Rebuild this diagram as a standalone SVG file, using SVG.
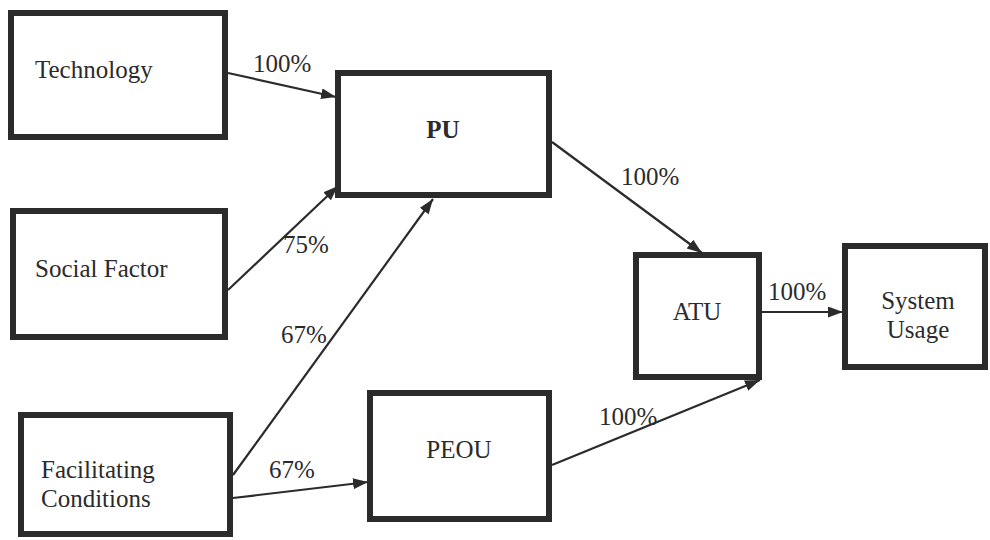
<svg xmlns="http://www.w3.org/2000/svg" width="990" height="540" viewBox="0 0 990 540">
<style>
.box{fill:#fff;stroke:#2b2b2b;stroke-width:6}
.t{font-family:'Liberation Serif','Times New Roman','DejaVu Serif',serif;font-size:25px;fill:#2b2b2b}
.c{text-anchor:middle}
.e{stroke:#2b2b2b;stroke-width:2.2;fill:none;marker-end:url(#ah)}
</style>
<defs>
<marker id="ah" markerUnits="userSpaceOnUse" markerWidth="16" markerHeight="12" refX="15" refY="5.5" orient="auto">
<path d="M0,0 L15,5.5 L0,11 z" fill="#2b2b2b"/>
</marker>
</defs>
<rect width="990" height="540" fill="#fff"/>
<g id="connectors">
<line class="e" x1="228" y1="73" x2="336" y2="97"/>
<line class="e" x1="228" y1="290" x2="338" y2="186"/>
<line class="e" x1="233" y1="475" x2="433" y2="199"/>
<line class="e" x1="233" y1="498" x2="368" y2="482"/>
<line class="e" x1="552" y1="142" x2="702" y2="253"/>
<line class="e" x1="552" y1="465" x2="760" y2="380"/>
<line class="e" x1="762" y1="312" x2="843" y2="312"/>
<text class="t" x="253" y="72">100%</text>
<text class="t" x="283" y="253">75%</text>
<text class="t" x="281" y="343">67%</text>
<text class="t" x="269" y="478">67%</text>
<text class="t" x="621" y="185">100%</text>
<text class="t" x="599" y="425">100%</text>
<text class="t" x="768" y="300">100%</text>
</g>
<g id="technology">
<rect class="box" x="11" y="13" width="214" height="124"/>
<text class="t" x="35" y="78">Technology</text>
</g>
<g id="social-factor">
<rect class="box" x="13" y="211" width="212" height="126"/>
<text class="t" x="35" y="277">Social Factor</text>
</g>
<g id="facilitating-conditions">
<rect class="box" x="21" y="415" width="209" height="119"/>
<text class="t" x="41" y="478">Facilitating</text>
<text class="t" x="41" y="507">Conditions</text>
</g>
<g id="pu">
<rect class="box" x="338" y="73" width="211" height="122"/>
<text class="t c" x="443" y="138" font-weight="bold">PU</text>
</g>
<g id="peou">
<rect class="box" x="370" y="393" width="179" height="126"/>
<text class="t c" x="459" y="458">PEOU</text>
</g>
<g id="atu">
<rect class="box" x="636" y="255" width="123" height="122"/>
<text class="t c" x="697" y="320">ATU</text>
</g>
<g id="system-usage">
<rect class="box" x="845" y="246" width="140" height="121"/>
<text class="t c" x="918" y="309">System</text>
<text class="t c" x="918" y="338">Usage</text>
</g>
</svg>
